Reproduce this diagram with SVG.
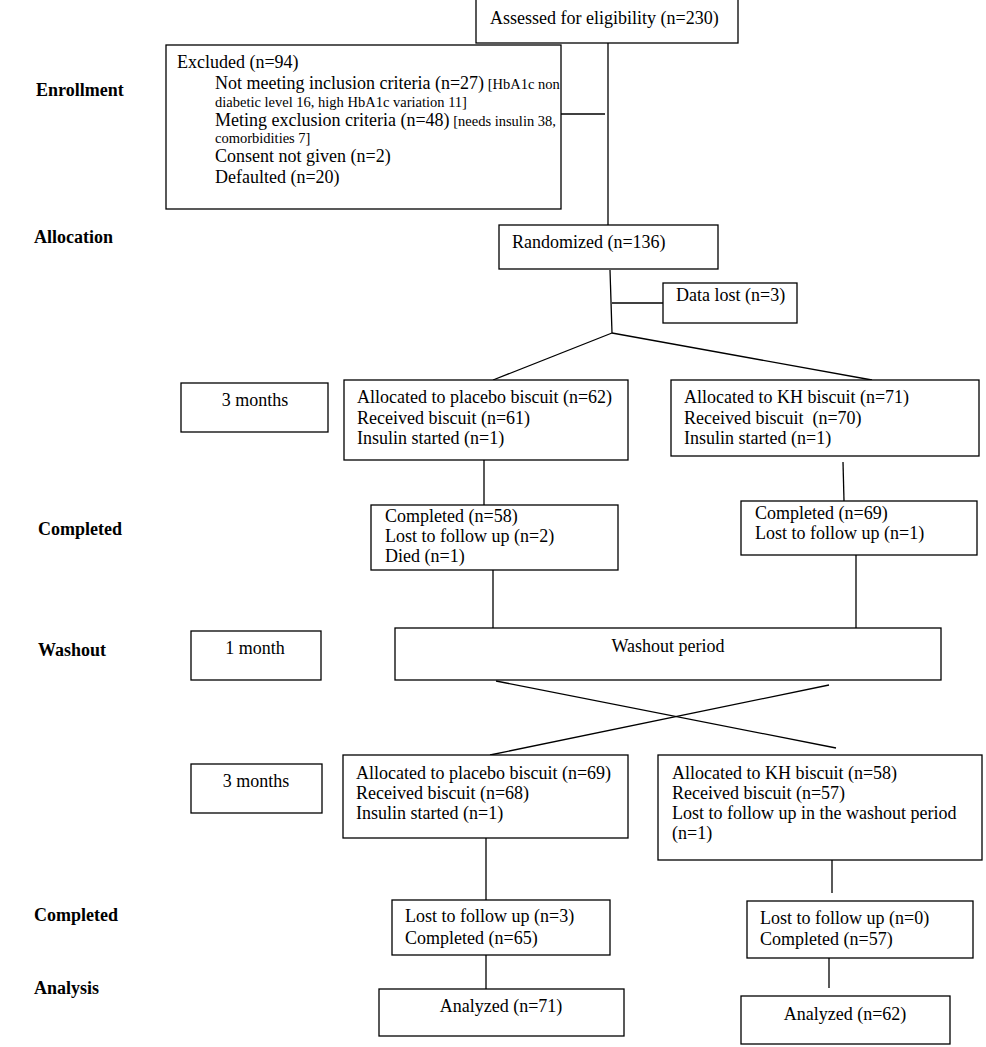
<svg xmlns="http://www.w3.org/2000/svg" width="986" height="1047" viewBox="0 0 986 1047">
<style>
rect{fill:#fff;stroke:#000;stroke-width:1.3}
line{stroke:#000;stroke-width:1.3}
text{font-family:"Liberation Serif","Times New Roman",serif;font-size:18px;fill:#000}
.s{font-size:14.5px}
.b{font-weight:bold}
.c{text-anchor:middle}
</style>
<rect width="986" height="1047" style="fill:#fff;stroke:none"/>
<g id="labels">
<text class="b" x="36" y="96">Enrollment</text>
<text class="b" x="34" y="243">Allocation</text>
<text class="b" x="38" y="535">Completed</text>
<text class="b" x="38" y="656">Washout</text>
<text class="b" x="34" y="921">Completed</text>
<text class="b" x="34" y="994">Analysis</text>
</g>
<g id="connectors">
<line x1="608" y1="43" x2="608" y2="225"/>
<line x1="561" y1="114" x2="605" y2="114"/>
<line x1="610" y1="270" x2="612" y2="333"/>
<line x1="612" y1="303" x2="663" y2="303"/>
<line x1="612" y1="333" x2="493" y2="380"/>
<line x1="612" y1="333" x2="872" y2="380"/>
<line x1="484" y1="460" x2="484" y2="505"/>
<line x1="843" y1="462" x2="844" y2="501"/>
<line x1="493" y1="568" x2="493" y2="628"/>
<line x1="856" y1="555" x2="856" y2="628"/>
<line x1="496" y1="681" x2="836" y2="748"/>
<line x1="829" y1="685" x2="490" y2="755"/>
<line x1="486" y1="838" x2="486" y2="900"/>
<line x1="832" y1="860" x2="832" y2="893"/>
<line x1="486" y1="955" x2="486" y2="989"/>
<line x1="829" y1="958" x2="829" y2="988"/>
</g>
<g id="assessed">
<rect x="476" y="-1" width="262" height="44"/>
<text x="490" y="24">Assessed for eligibility (n=230)</text>
</g>
<g id="excluded">
<rect x="166" y="45" width="395" height="164"/>
<text x="177" y="68">Excluded (n=94)</text>
<text x="215" y="89">Not meeting inclusion criteria (n=27)<tspan class="s"> [HbA1c non</tspan></text>
<text class="s" x="215" y="107">diabetic level 16, high HbA1c variation 11]</text>
<text x="215" y="126">Meting exclusion criteria (n=48)<tspan class="s"> [needs insulin 38,</tspan></text>
<text class="s" x="215" y="143">comorbidities 7]</text>
<text x="215" y="162">Consent not given (n=2)</text>
<text x="215" y="183">Defaulted (n=20)</text>
</g>
<g id="randomized">
<rect x="499" y="225" width="219" height="44"/>
<text x="512" y="248">Randomized (n=136)</text>
</g>
<g id="datalost">
<rect x="663" y="283" width="134" height="40"/>
<text x="676" y="301">Data lost (n=3)</text>
</g>
<g id="months1">
<rect x="181" y="383" width="147" height="49"/>
<text class="c" x="255" y="406">3 months</text>
</g>
<g id="placebo1">
<rect x="344" y="380" width="284" height="80"/>
<text x="357" y="403">Allocated to placebo biscuit (n=62)</text>
<text x="357" y="424">Received biscuit (n=61)</text>
<text x="357" y="444">Insulin started (n=1)</text>
</g>
<g id="kh1">
<rect x="671" y="380" width="308" height="76"/>
<text x="684" y="403">Allocated to KH biscuit (n=71)</text>
<text x="684" y="424" xml:space="preserve">Received biscuit  (n=70)</text>
<text x="684" y="444">Insulin started (n=1)</text>
</g>
<g id="completed1a">
<rect x="371" y="505" width="247" height="65"/>
<text x="385" y="522">Completed (n=58)</text>
<text x="385" y="542">Lost to follow up (n=2)</text>
<text x="385" y="562">Died (n=1)</text>
</g>
<g id="completed1b">
<rect x="741" y="501" width="236" height="54"/>
<text x="755" y="519">Completed (n=69)</text>
<text x="755" y="539">Lost to follow up (n=1)</text>
</g>
<g id="month1">
<rect x="191" y="631" width="130" height="49"/>
<text class="c" x="255" y="654">1 month</text>
</g>
<g id="washout">
<rect x="395" y="628" width="546" height="52"/>
<text class="c" x="668" y="652">Washout period</text>
</g>
<g id="months2">
<rect x="191" y="764" width="131" height="49"/>
<text class="c" x="256" y="787">3 months</text>
</g>
<g id="placebo2">
<rect x="343" y="755" width="285" height="83"/>
<text x="356" y="779">Allocated to placebo biscuit (n=69)</text>
<text x="356" y="799">Received biscuit (n=68)</text>
<text x="356" y="819">Insulin started (n=1)</text>
</g>
<g id="kh2">
<rect x="658" y="755" width="324" height="105"/>
<text x="672" y="779">Allocated to KH biscuit (n=58)</text>
<text x="672" y="799">Received biscuit (n=57)</text>
<text x="672" y="819">Lost to follow up in the washout period</text>
<text x="672" y="839">(n=1)</text>
</g>
<g id="completed2a">
<rect x="392" y="900" width="218" height="55"/>
<text x="405" y="922">Lost to follow up (n=3)</text>
<text x="405" y="944">Completed (n=65)</text>
</g>
<g id="completed2b">
<rect x="747" y="901" width="226" height="57"/>
<text x="760" y="924">Lost to follow up (n=0)</text>
<text x="760" y="945">Completed (n=57)</text>
</g>
<g id="analyzed1">
<rect x="379" y="989" width="245" height="47"/>
<text class="c" x="501" y="1012">Analyzed (n=71)</text>
</g>
<g id="analyzed2">
<rect x="741" y="996" width="209" height="48"/>
<text class="c" x="845" y="1020">Analyzed (n=62)</text>
</g>
</svg>
